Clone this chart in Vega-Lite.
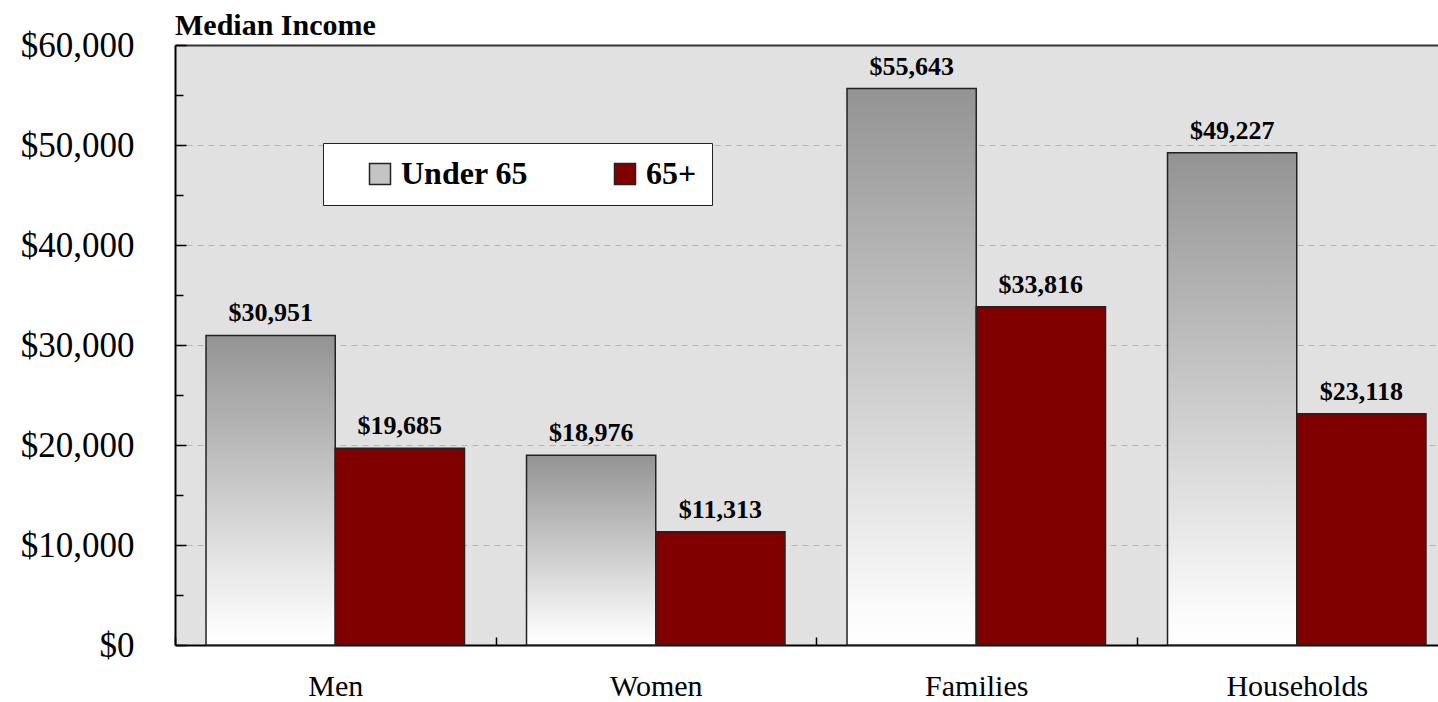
{
  "$schema": "https://vega.github.io/schema/vega-lite/v6.json",
  "width": 1263,
  "height": 600,
  "autosize": {"type": "none"},
  "padding": {"left": 175, "top": 45, "right": 0, "bottom": 57},
  "background": "white",
  "title": {"text": "Median Income", "anchor": "start", "frame": "group", "font": "Liberation Serif", "fontSize": 30, "fontWeight": "bold", "color": "black", "baseline": "alphabetic", "offset": -37},
  "config": {"view": {"fill": "#e1e1e1", "stroke": null}, "font": "Liberation Serif"},
  "data": {"values": [
    {"category": "Men", "group": "Under 65", "value": 30951},
    {"category": "Men", "group": "65+", "value": 19685},
    {"category": "Women", "group": "Under 65", "value": 18976},
    {"category": "Women", "group": "65+", "value": 11313},
    {"category": "Families", "group": "Under 65", "value": 55643},
    {"category": "Families", "group": "65+", "value": 33816},
    {"category": "Households", "group": "Under 65", "value": 49227},
    {"category": "Households", "group": "65+", "value": 23118}
  ]},
  "encoding": {
    "x": {"field": "category", "type": "nominal", "sort": ["Men", "Women", "Families", "Households"],
      "scale": {"range": [0, 1282], "paddingInner": 0, "paddingOuter": 0},
      "axis": {"title": null, "labelFont": "Liberation Serif", "labelFontSize": 30, "labelColor": "black", "labelAngle": 0, "tickBand": "extent", "tickSize": -8, "tickColor": "black", "tickWidth": 1.5, "domainColor": "black", "domainWidth": 2, "labelPadding": 34}},
    "xOffset": {"field": "group", "type": "nominal", "sort": ["Under 65", "65+"], "scale": {"paddingInner": 0, "paddingOuter": 0.24}},
    "y": {"field": "value", "type": "quantitative", "scale": {"domain": [0, 60000], "nice": false},
      "axis": {"title": null, "values": [0, 5000, 10000, 15000, 20000, 25000, 30000, 35000, 40000, 45000, 50000, 55000, 60000],
        "labelExpr": "datum.value % 10000 === 0 ? '$' + format(datum.value, ',') : ''",
        "labelFont": "Liberation Serif", "labelFontSize": 35, "labelColor": "black", "labelPadding": 52,
        "tickSize": {"condition": {"test": "datum.value % 10000 === 0", "value": -11}, "value": -8},
        "tickColor": "black", "tickWidth": 1.5, "domainColor": "black", "domainWidth": 2,
        "grid": true,
        "gridColor": {"condition": {"test": "datum.value === 60000", "value": "#333333"}, "value": "#b4b4b4"},
        "gridDash": {"condition": {"test": "datum.value === 60000", "value": []}, "value": [6, 5]},
        "gridWidth": {"condition": {"test": "datum.value === 60000", "value": 2}, "value": 1.2},
        "gridOpacity": {"condition": {"test": "datum.value % 10000 === 0", "value": 1}, "value": 0}}}
  },
  "layer": [
    {
      "mark": {"type": "bar", "stroke": "#222222", "strokeWidth": 1.5},
      "encoding": {
        "color": {"field": "group", "type": "nominal", "sort": ["Under 65", "65+"],
          "scale": {"domain": ["Under 65", "65+"], "range": ["#c4c4c4", "#800000"]},
          "condition": {"test": "datum.group === 'Under 65'", "value": {"gradient": "linear", "x1": 0, "y1": 0, "x2": 0, "y2": 1, "stops": [{"offset": 0, "color": "#939393"}, {"offset": 0.93, "color": "#fafafa"}, {"offset": 1, "color": "#ffffff"}]}},
          "legend": {"orient": "none", "legendX": 148, "legendY": 98, "direction": "horizontal", "title": null,
            "fillColor": "white", "strokeColor": "#222222", "padding": 15,
            "symbolType": "square", "symbolSize": 441, "symbolOpacity": 1,
            "labelFont": "Liberation Serif", "labelFontSize": 32, "labelFontWeight": "bold", "labelColor": "black", "labelOffset": 5,
            "columnPadding": 54, "symbolOffset": 26,
            "encode": {
              "symbols": {
                "stroke": {"value": "#111111"},
                "strokeWidth": {"value": 1.5}
              }
            }}
        }
      }
    },
    {
      "mark": {"type": "text", "font": "Liberation Serif", "fontSize": 26, "fontWeight": "bold", "color": "black", "baseline": "alphabetic", "dy": -14},
      "encoding": {"text": {"field": "value", "type": "quantitative", "format": "$,.0f"}}
    }
  ]
}
